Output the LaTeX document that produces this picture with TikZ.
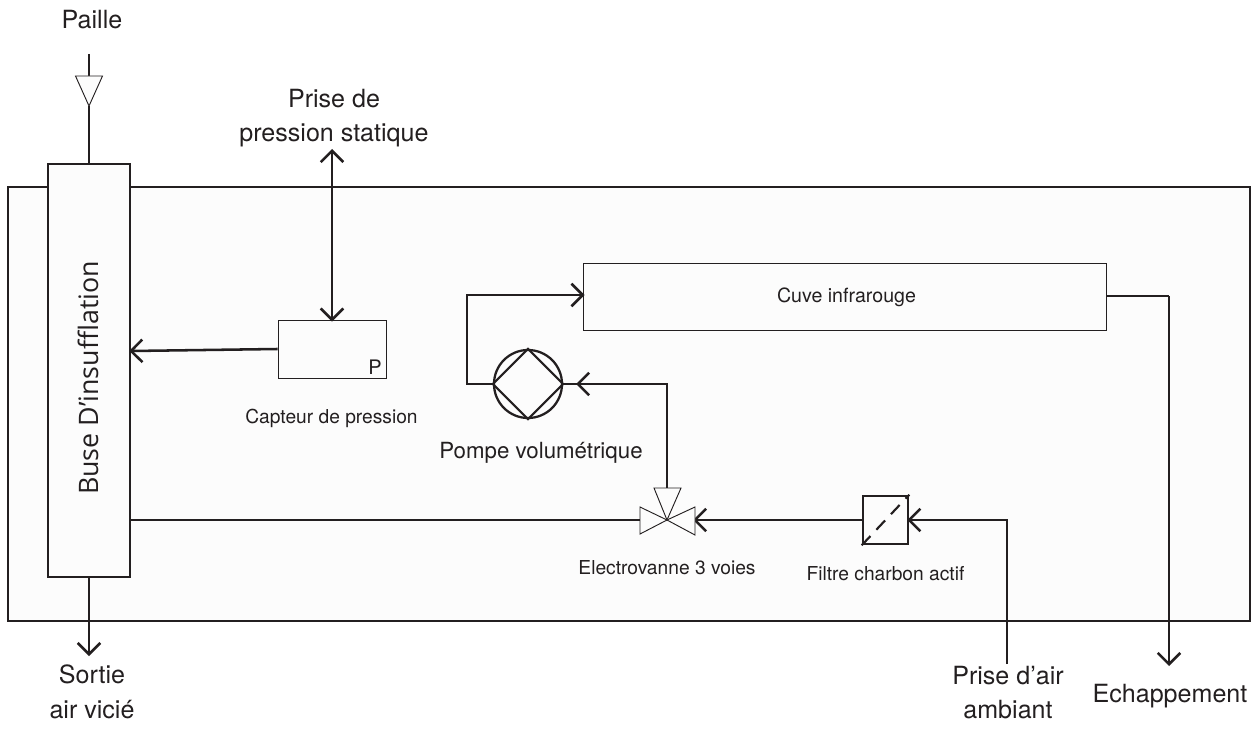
\documentclass[tikz,border=0pt]{standalone}
\usepackage{fontspec}
\setmainfont{TeX Gyre Heros}
\newfontfamily\busefont{Open Sans}
\usetikzlibrary{arrows.meta,positioning}
\definecolor{ink}{HTML}{231F20}
\definecolor{panel}{HTML}{FCFCFC}
\newcommand{\pxu}{0.75pt}
\tikzset{
  x=0.75pt,y=-0.75pt,
  box/.style={draw=ink,rectangle,inner sep=0pt},
  thickbox/.style={box,line width=1.9pt},
  thinbox/.style={box,line width=0.65pt,fill=white},
  flow/.style={draw=ink,line width=1.9pt,line join=miter},
  tip/.style={-{Straight Barb[length=8.5pt,width=17pt,line width=1.9pt]},shorten >=-1.5pt},
  tiptwo/.style={{Straight Barb[length=8.5pt,width=17pt,line width=1.9pt]}-{Straight Barb[length=8.5pt,width=17pt,line width=1.9pt]},shorten >=-1.5pt},
  biglabel/.style={font=\fontsize{18.8pt}{26pt}\selectfont,text=ink,align=center,inner sep=0pt},
  smalllabel/.style={font=\fontsize{14.4pt}{18pt}\selectfont,text=ink,align=center,inner sep=0pt},
  tri/.style={draw=ink,line width=0.7pt,fill=panel,line join=miter},
}
\begin{document}
\begin{tikzpicture}
\useasboundingbox (0,0) rectangle (1256,731);
% enclosure and main blocks
\node[thickbox,fill=panel,minimum width=1242*\pxu,minimum height=434*\pxu] (frame) at (629,404) {};
\node[thickbox,fill=panel,minimum width=82*\pxu,minimum height=413*\pxu] (buse) at (89,370.5) {};
\node[font=\busefont\fontsize{20.1pt}{24pt}\selectfont,text=ink,rotate=90,inner sep=0pt] (busetext) at (88,378) {Buse D’insufflation};
\node[thinbox,fill=panel,minimum width=523*\pxu,minimum height=67*\pxu] (cuve) at (844.5,296.5) {};
\node[smalllabel,font=\fontsize{14.7pt}{18pt}\selectfont] (cuvetext) at (846.5,297) {Cuve infrarouge};
\node[thinbox,fill=panel,minimum width=108*\pxu,minimum height=58*\pxu] (capteur) at (332,349) {};
\node[smalllabel,font=\fontsize{15pt}{18pt}\selectfont,anchor=south east] (ptext) at (382,375) {P};
\node[smalllabel] (capteurtext) at (331.5,418) {Capteur de pression};
% pump
\node[circle,draw=ink,line width=1.7pt,minimum size=68*\pxu,inner sep=0pt] (pompe) at (528,384) {};
\draw[ink,line width=1.7pt,line join=miter] (pompe.west) -- (pompe.north) -- (pompe.east) -- (pompe.south) -- cycle;
\node[smalllabel,font=\fontsize{16.7pt}{18pt}\selectfont] (pompetext) at (541,453) {Pompe volumétrique};
% filter
\node[thickbox,fill=panel,minimum width=45*\pxu,minimum height=48*\pxu] (filtre) at (885.5,520) {};
\draw[ink,line width=1.6pt,dash pattern=on 9.5pt off 6.5pt] (filtre.south west) -- (filtre.north east);
\node[smalllabel] (filtretext) at (885.5,574) {Filtre charbon actif};
% valve
\coordinate (vanne) at (667,520);
\coordinate (vannetop) at (667,488);
\coordinate (vanneleft) at (640,520);
\coordinate (vanneright) at (695,520);
\node[smalllabel] (vannetext) at (667,568) {Electrovanne 3 voies};
% Paille
\coordinate (paillestart) at (89,54);
\coordinate (pailletop) at (89,76);
\coordinate (paillebot) at (89,106);
\node[biglabel] (paille) at (92,20) {Paille};
% connectors
\draw[flow] (paillestart) -- (pailletop);
\draw[flow] (paillebot) -- (buse.north -| paillebot);
\draw[tri] (75.5,76) -- (102.5,76) -- (paillebot) -- cycle;
\coordinate (sortieend) at (89,654);
\draw[flow,tip] (buse.south) -- (sortieend);
\coordinate (pressionend) at (332,149);
\draw[flow,tiptwo] (pressionend) -- (capteur.north);
\draw[flow,tip] (capteur.west) -- (buse.east |- 0,351);
\draw[flow] (buse.east |- vanneleft) -- (vanneleft);
\draw[flow,tip] (pompe.west) -- (467,384) -- (467,295) -- (cuve.west |- 0,295);
\draw[flow] (cuve.east |- 0,296) -- (1169,296) coordinate (echcorner);
\coordinate (echend) at (1169,664);
\draw[flow,tip] (echcorner) -- (echend);
\coordinate (pompetip) at (578,384);
\draw[flow,tip] (vannetop) -- (667,384) -- (pompetip);
\draw[flow] (pompetip) -- (pompe.east);
\draw[flow,tip] (filtre.west) -- (vanneright);
\coordinate (airstart) at (1007,664);
\draw[flow,tip] (airstart) -- (1007,520) -- (filtre.east);
% valve triangles
\draw[tri] (640,507) -- (vanne) -- (640,534) -- cycle;
\draw[tri] (695,507) -- (vanne) -- (695,535) -- cycle;
\draw[tri] (654,488) -- (681,488) -- (vanne) -- cycle;
% outer labels
\node[biglabel] (prise) at (334,118) {Prise de\\pression statique};
\node[biglabel] (sortie) at (92,692) {Sortie\\air vicié};
\node[biglabel] (air) at (1008,692.5) {Prise d’air\\ambiant};
\node[biglabel] (ech) at (1170,696) {Echappement};
\end{tikzpicture}
\end{document}
